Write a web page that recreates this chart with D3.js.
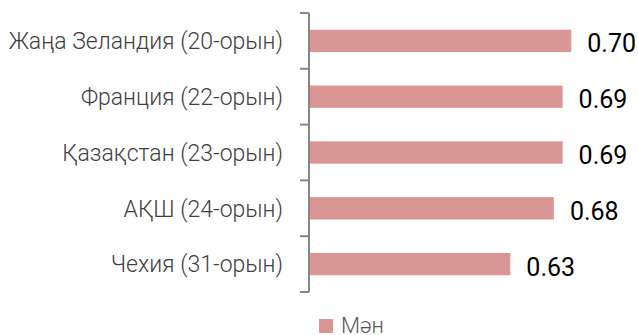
<!DOCTYPE html>
<html>
<head>
<meta charset="utf-8">
<script src="https://cdn.jsdelivr.net/npm/d3@7"></script>
<style>
    body { margin: 0; background: #fff; }
    svg { display: block; }
</style>
</head>
<body>
<div id="the_chart"></div>
<script>
let categories = ["Жаңа Зеландия (20-орын)", "Франция (22-орын)", "Қазақстан (23-орын)", "АҚШ (24-орын)", "Чехия (31-орын)"];
let values = [0.70, 0.69, 0.69, 0.68, 0.63];
let value_labels = ["0.70", "0.69", "0.69", "0.68", "0.63"];
let series_name = "Мән";

gen_vis();

function gen_vis() {
    var w = 638;
    var h = 335;
    var axis_x = 309;
    var xscale = d3.scaleLinear()
        .domain([0.4, 0.75])
        .range([axis_x + 1, axis_x + 1 + 0.35 * 871]);
    var yscale = d3.scaleBand()
        .domain(categories)
        .range([13, 292])
        .paddingInner(0.6)
        .paddingOuter(0.3);

    var svg = d3.select("#the_chart").append("svg")
        .attr("width", w)
        .attr("height", h);

    // bars
    svg.selectAll("rect.bar")
        .data(values)
        .enter().append("rect")
        .attr("class", "bar")
        .attr("x", xscale(0.4))
        .attr("y", function(d, i) { return yscale(categories[i]); })
        .attr("width", function(d) { return xscale(d) - xscale(0.4); })
        .attr("height", yscale.bandwidth())
        .attr("fill", "#d99694");

    // value labels
    svg.selectAll("text.val")
        .data(values)
        .enter().append("text")
        .attr("class", "val")
        .attr("x", function(d) { return xscale(d) + 16; })
        .attr("y", function(d, i) { return yscale(categories[i]) + yscale.bandwidth() / 2; })
        .attr("dy", "0.46em")
        .attr("font-family", "Roboto, 'Open Sans', sans-serif")
        .attr("font-size", 25)
        .attr("fill", "#000")
        .text(function(d, i) { return value_labels[i]; });

    // category axis, labels centred in bands
    var yaxis = d3.axisLeft(yscale)
        .tickSize(0)
        .tickPadding(26);
    var g = svg.append("g")
        .attr("transform", "translate(" + axis_x + ",0)")
        .call(yaxis);
    g.select(".domain").remove();
    g.selectAll("text")
        .attr("font-family", "Roboto, 'Open Sans', sans-serif")
        .attr("font-weight", 300)
        .attr("font-size", 23)
        .attr("fill", "#404040")
        .attr("dy", "0.36em");

    // axis line and boundary ticks
    var step = yscale.step();
    var edges = d3.range(categories.length + 1).map(function(i) { return 13 + i * step; });
    svg.append("line")
        .attr("x1", axis_x).attr("x2", axis_x)
        .attr("y1", 13).attr("y2", 292)
        .attr("stroke", "#868686")
        .attr("stroke-width", 2);
    svg.selectAll("line.tick")
        .data(edges)
        .enter().append("line")
        .attr("class", "tick")
        .attr("x1", axis_x - 9).attr("x2", axis_x)
        .attr("y1", function(d) { return d; })
        .attr("y2", function(d) { return d; })
        .attr("stroke", "#868686")
        .attr("stroke-width", 2);

    // legend
    var lg = svg.append("g").attr("transform", "translate(319,319)");
    lg.append("rect")
        .attr("width", 14)
        .attr("height", 14)
        .attr("fill", "#d99694");
    lg.append("text")
        .attr("x", 22)
        .attr("y", 14)
        .attr("font-family", "Roboto, 'Open Sans', sans-serif")
        .attr("font-weight", 300)
        .attr("font-size", 22)
        .attr("fill", "#595959")
        .text(series_name);
}
</script>
</body>
</html>
